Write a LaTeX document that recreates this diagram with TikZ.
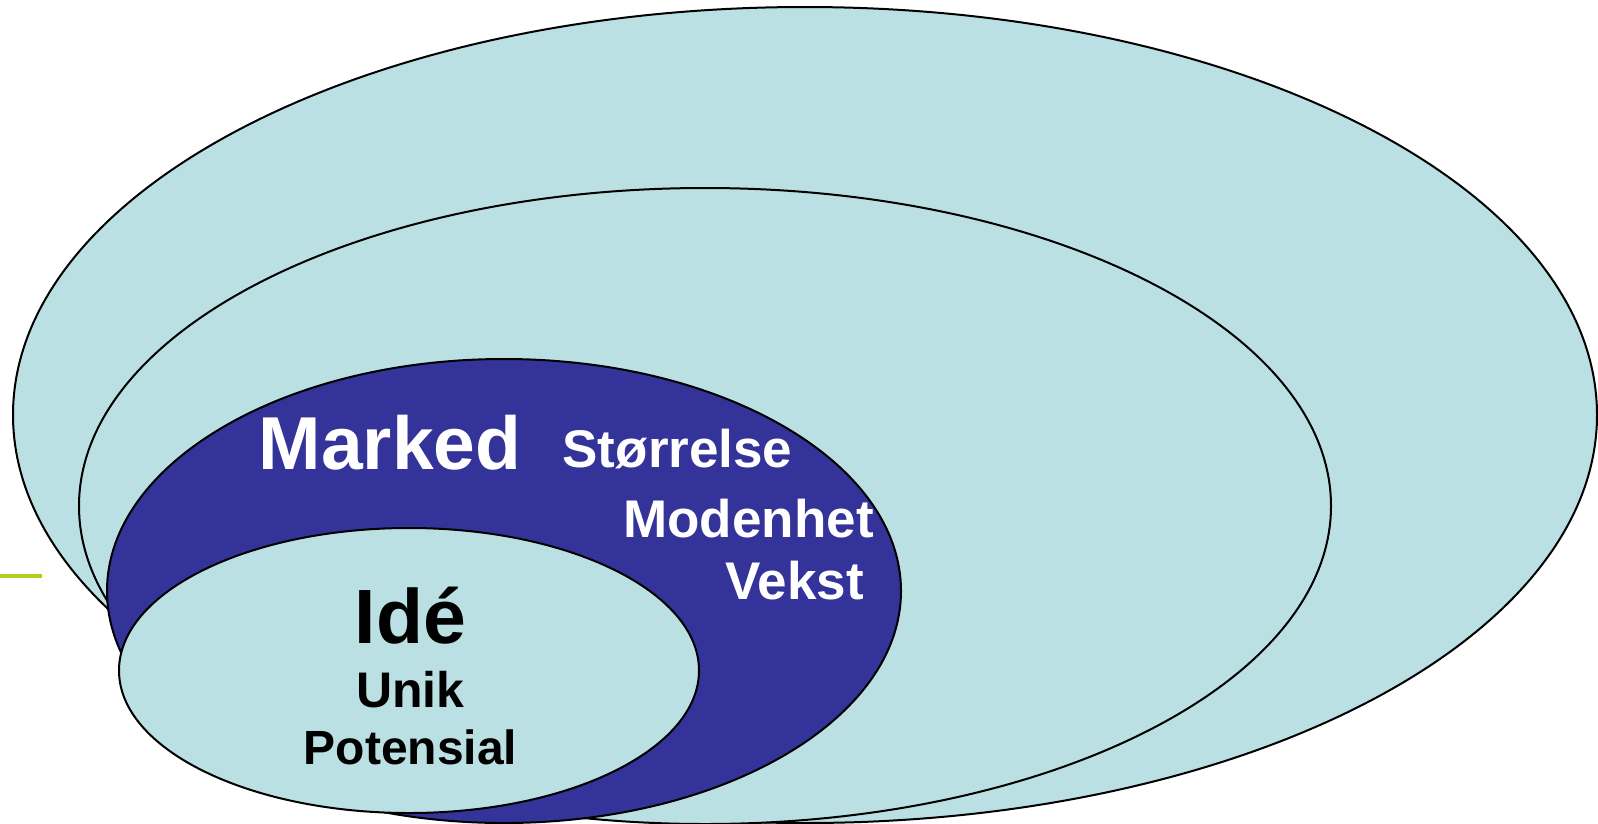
\documentclass[tikz,border=0pt]{standalone}
\usepackage{fontspec}
\setmainfont{Liberation Sans}
\definecolor{lightc}{RGB}{187,224,227}
\definecolor{darkc}{RGB}{51,51,153}
\definecolor{greenc}{RGB}{180,204,30}
\begin{document}
\begin{tikzpicture}[x=1pt,y=-1pt,
  ring/.style={draw=black,line width=2pt},
  lbl/.style={anchor=base,inner sep=0pt,font=\bfseries}]
\useasboundingbox (0,0) rectangle (1598,823);
\clip (0,0) rectangle (1598,823);
\coordinate (g1) at (0,576);
\coordinate (g2) at (42,576);
\draw[greenc,line width=4.5pt] (g1) -- (g2);
\draw[ring,fill=lightc] (805,415) ellipse [x radius=792, y radius=408];
\draw[ring,fill=lightc] (705,506) ellipse [x radius=626, y radius=318];
\draw[ring,fill=darkc] (504,591) ellipse [x radius=397, y radius=232];
\draw[ring,fill=lightc] (409,670.5) ellipse [x radius=290, y radius=142.5];
\node[lbl,text=white,font=\bfseries\fontsize{75}{75}\selectfont] (marked) at (390,469) {Marked};
\node[lbl,text=white,font=\bfseries\fontsize{53}{53}\selectfont] (storr) at (677.5,467) {Størrelse};
\node[lbl,text=white,font=\bfseries\fontsize{53}{53}\selectfont] (moden) at (748.5,537) {Modenhet};
\node[lbl,text=white,font=\bfseries\fontsize{53}{53}\selectfont] (vekst) at (794.5,599) {Vekst};
\node[lbl,text=black,font=\bfseries\fontsize{77}{77}\selectfont] (ide) at (410.5,643) {Idé};
\node[lbl,text=black,font=\bfseries\fontsize{50}{50}\selectfont] (unik) at (410.5,707) {Unik};
\node[lbl,text=black,font=\bfseries\fontsize{48}{48}\selectfont] (pot) at (410.5,764) {Potensial};
\end{tikzpicture}
\end{document}
